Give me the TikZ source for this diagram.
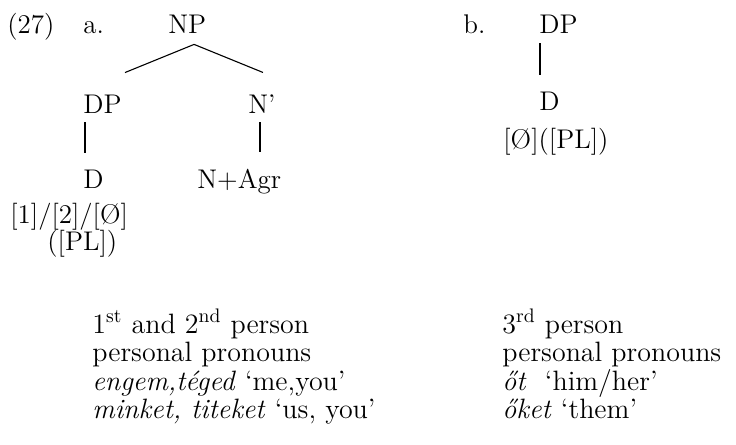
\documentclass[tikz,border=0pt]{standalone}
\usepackage{tikz}
\usetikzlibrary{positioning}
\begin{document}
\begin{tikzpicture}[
  x=0.5pt,y=-0.5pt,
  every node/.style={inner sep=0pt,anchor=base west,font=\fontsize{13.5}{16}\selectfont},
  branch/.style={line width=0.55pt},
  gloss/.style={font=\fontsize{14}{16}\selectfont}
]
  \useasboundingbox (0,0) rectangle (736,445);

  % --- (27a) ---
  \node (num) at (7,33) {(27)};
  \node (la) at (83,33) {a.};
  \node (np) at (168,33) {NP};
  \node (dpa) at (83,113) {DP};
  \node (nbar) at (248,113) {N’};
  \node (da) at (83,188) {D};
  \node (nagr) at (197,188) {N+Agr};
  \node (fa) at (10,223) {[1]/[2]/[Ø]};
  \node (pla) at (47,250) {([PL])};

  \draw[branch] ([shift={(3.4pt,-5.5pt)}]np.south) -- ([shift={(1.5pt,10.8pt)}]dpa.north east);
  \draw[branch] ([shift={(3.4pt,-5.5pt)}]np.south) -- ([shift={(0.5pt,10.7pt)}]nbar.north);
  \draw[branch] ([shift={(1pt,-4.5pt)}]dpa.south west) -- ([shift={(1pt,8.3pt)}]dpa.south west |- da.north);
  \draw[branch] ([shift={(6pt,-4.5pt)}]nbar.south west) -- ([shift={(6pt,8.3pt)}]nbar.south west |- nagr.north);

  % --- (27b) ---
  \node (lb) at (463,33) {b.};
  \node (dpb) at (539,33) {DP};
  \node (db) at (539,110) {D};
  \node (fb) at (503,148) {[Ø]([PL])};

  \draw[branch] ([shift={(0.5pt,-5pt)}]dpb.south west) -- ([shift={(0.5pt,8.3pt)}]dpb.south west |- db.north);

  % glosses
  \node[gloss] (ga1) at (92,333) {1\textsuperscript{st} and 2\textsuperscript{nd} person};
  \node[gloss] (ga2) at ([yshift=-14.25pt]ga1.base west) {personal pronouns};
  \node[gloss] (ga3) at ([yshift=-14.25pt]ga2.base west) {\textit{engem,téged} ‘me,you’};
  \node[gloss] (ga4) at ([yshift=-14.25pt]ga3.base west) {\textit{minket, titeket} ‘us, you’};

  \node[gloss] (gb1) at (502,333) {3\textsuperscript{rd} person};
  \node[gloss] (gb2) at ([yshift=-14.25pt]gb1.base west) {personal pronouns};
  \node[gloss] (gb3) at ([yshift=-14.25pt]gb2.base west) {\textit{őt}\ \ ‘him/her’};
  \node[gloss] (gb4) at ([yshift=-14.25pt]gb3.base west) {\textit{őket} ‘them’};
\end{tikzpicture}
\end{document}
